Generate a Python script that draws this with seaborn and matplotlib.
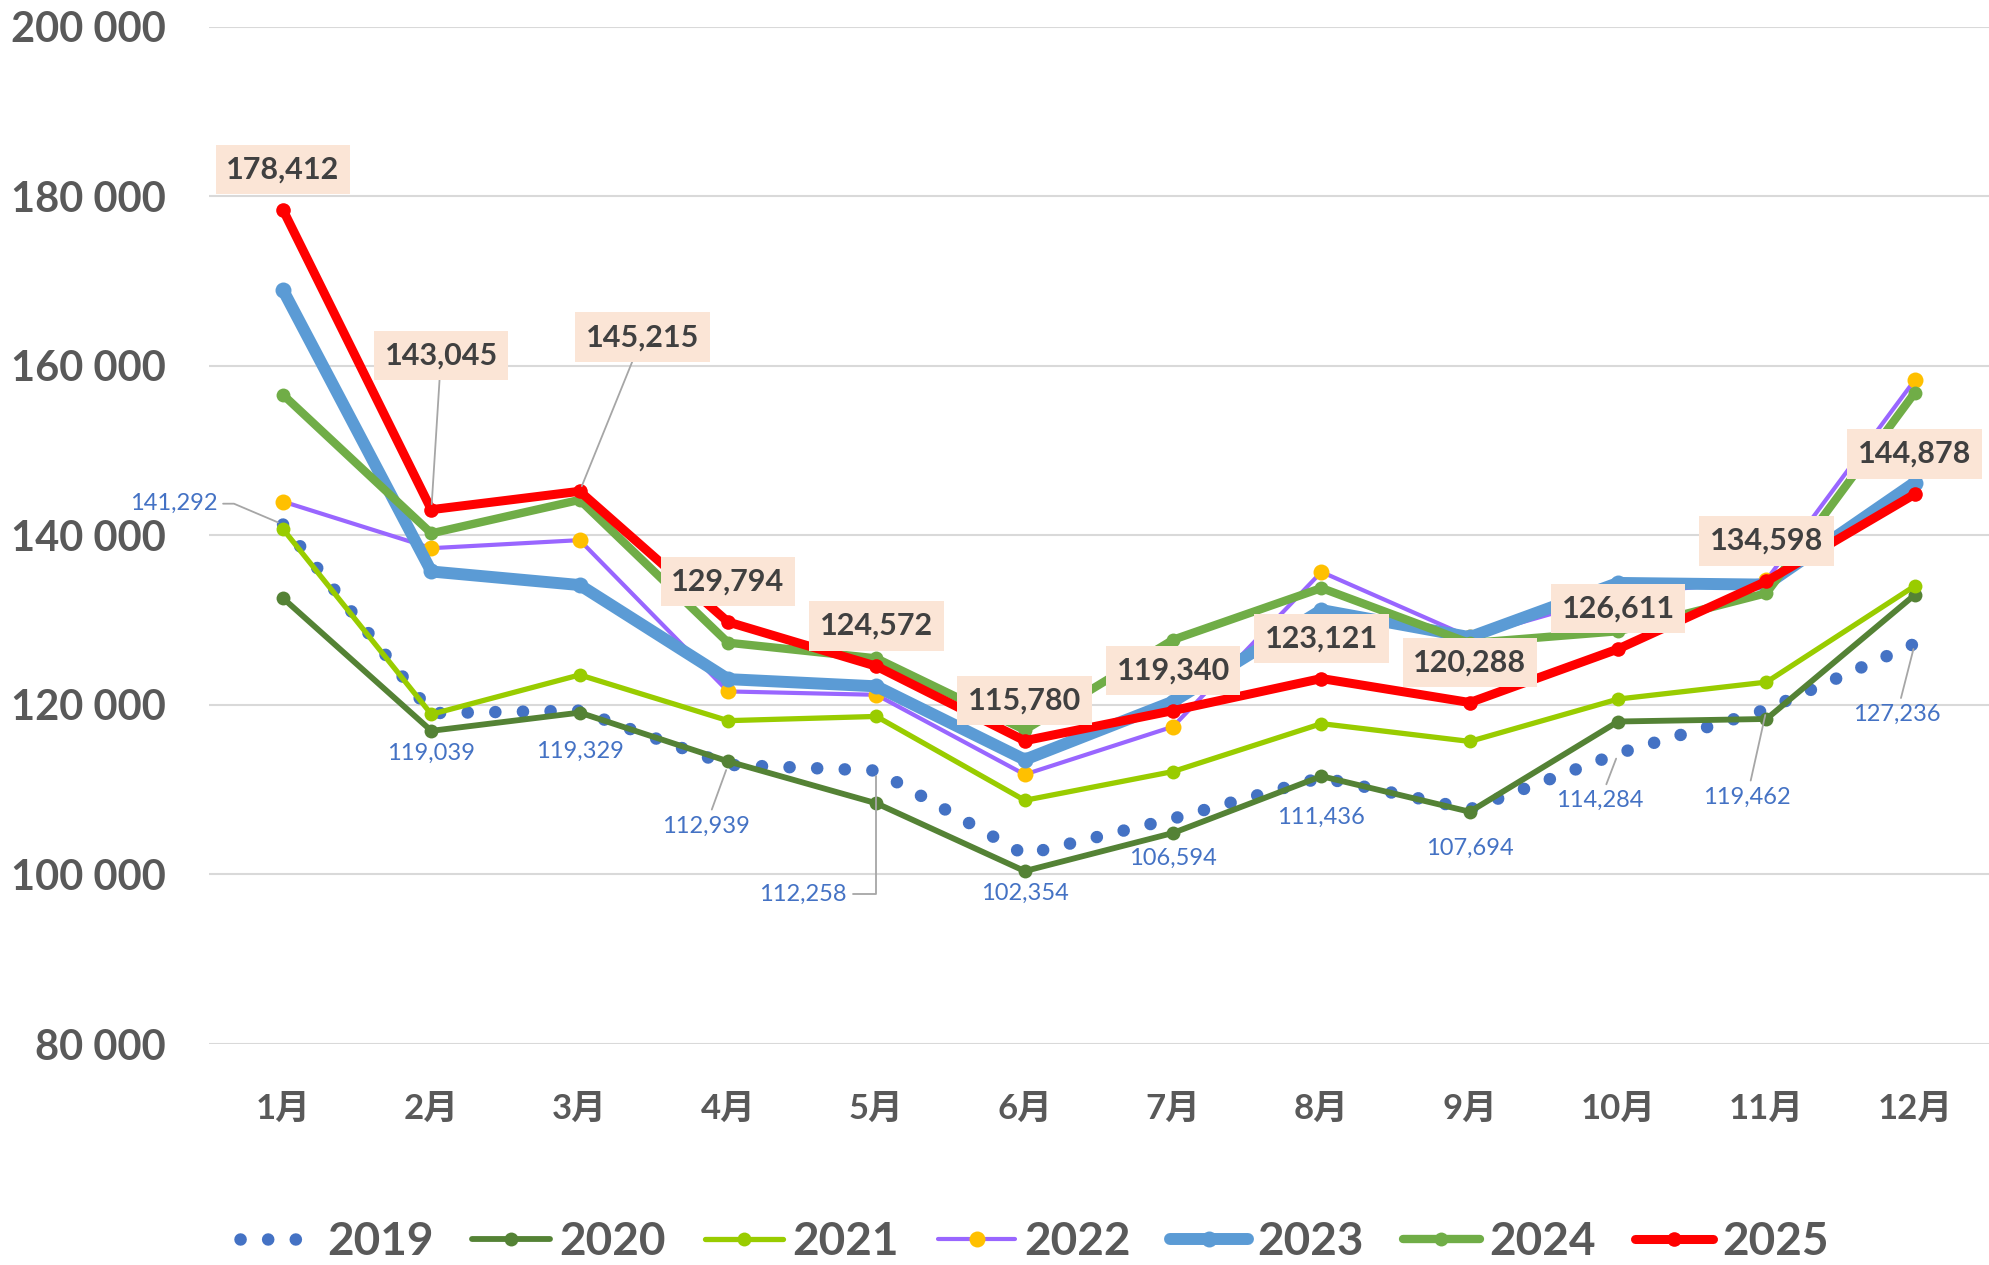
import numpy as np
import pandas as pd
import matplotlib
matplotlib.use("Agg")
import matplotlib.pyplot as plt
import seaborn as sns
from matplotlib.ticker import FuncFormatter

# data
months = ['1月', '2月', '3月', '4月', '5月', '6月', '7月', '8月', '9月', '10月', '11月', '12月']
years = ['2019', '2020', '2021', '2022', '2023', '2024', '2025']

y2019 = [141292, 119039, 119329, 112939, 112258, 102354, 106594, 111436, 107694, 114284, 119462, 127236]
y2020 = [132600, 116950, 119100, 113350, 108400, 100400, 104900, 111600, 107400, 118050, 118350, 133000]
y2021 = [140750, 118900, 123550, 118150, 118650, 108750, 112150, 117800, 115700, 120700, 122700, 134050]
y2022 = [144000, 138500, 139450, 121600, 121200, 111800, 117450, 135700, 128000, 133000, 134750, 158350]
y2023 = [168950, 135750, 134150, 123050, 122200, 113550, 120400, 131200, 128000, 134400, 134200, 146250]
y2024 = [156600, 140250, 144200, 127350, 125500, 117050, 127700, 133800, 127300, 128700, 133200, 156850]
y2025 = [178412, 143045, 145215, 129794, 124572, 115780, 119340, 123121, 120288, 126611, 134598, 144878]

series = dict(zip(years, [y2019, y2020, y2021, y2022, y2023, y2024, y2025]))

styles = {
    '2019': dict(color='#4472C4', linewidth=9, linestyle=(0, (0.01, 2.2)), dash_capstyle='round'),
    '2020': dict(color='#548235', linewidth=4.2, marker='o', markersize=10, markeredgewidth=0),
    '2021': dict(color='#99CC00', linewidth=3.8, marker='o', markersize=10, markeredgewidth=0),
    '2022': dict(color='#9966FF', linewidth=3.0, marker='o', markersize=11.5, markeredgewidth=0,
                 markerfacecolor='#FFC000'),
    '2023': dict(color='#5B9BD5', linewidth=8.6, marker='o', markersize=11.5, markeredgewidth=0),
    '2024': dict(color='#70AD47', linewidth=6, marker='o', markersize=10, markeredgewidth=0),
    '2025': dict(color='#FF0000', linewidth=6.5, marker='o', markersize=10.5, markeredgewidth=0),
}

sns.set_theme(style='white')
plt.rcParams['font.family'] = ['Lato', 'Noto Sans CJK JP']

fig = plt.figure(figsize=(19.89, 12.65), dpi=100)
ax = fig.add_axes([0.105, 0.1747, 0.895, 0.804])

x = np.arange(len(months))
for year in years:
    sns.lineplot(x=x, y=series[year], ax=ax, label=year, sort=False, **styles[year])

# axes
ax.set_xlim(-0.5, 11.5)
ax.set_ylim(80000, 200000)
ax.set_yticks(range(80000, 200001, 20000))
ax.yaxis.set_major_formatter(FuncFormatter(lambda v, p: f"{int(v):,}".replace(',', ' ')))
ax.set_xticks(x)
ax.set_xticklabels(months)
ax.tick_params(axis='y', length=0, pad=31, labelsize=30, labelcolor='#595959')
ax.tick_params(axis='x', length=0, pad=35, labelsize=25, labelcolor='#595959')
for lab in ax.get_xticklabels() + ax.get_yticklabels():
    lab.set_fontweight('bold')
ax.yaxis.grid(True, color='#D9D9D9', linewidth=1.5)
ax.xaxis.grid(False)
ax.set_axisbelow(True)
for s in ax.spines.values():
    s.set_visible(False)
ax.set_xlabel('')
ax.set_ylabel('')

leader = dict(arrowstyle='-', color='#A6A6A6', lw=1.3, shrinkB=4)

# 2025 labels
off25 = {1: (7, 111), 2: (45, 111)}
for i, v in enumerate(y2025):
    dx, dy = off25.get(i, (0, 29))
    kw = {}
    if i in off25:
        kw['arrowprops'] = dict(leader, shrinkA=0)
    ax.annotate(f"{v:,}", (i, v), xytext=(dx, dy), textcoords='offset points',
                ha='center', va='center', fontsize=22, fontweight='bold', color='#404040',
                bbox=dict(boxstyle='square,pad=0.35', fc='#FBE5D6', ec='none'), zorder=10, **kw)

# 2019 labels
off19 = {0: (-79, 15), 1: (0, -29), 2: (0, -29), 3: (-16, -44), 4: (-53, -89), 5: (0, -28),
         6: (0, -28.6), 7: (0, -28.7), 8: (0, -28), 9: (-13, -34), 10: (-14, -63), 11: (-13, -51)}
conn19 = {0: 'angle,angleA=0,angleB=-23,rad=0', 4: 'angle,angleA=0,angleB=90,rad=0'}
lead19 = [0, 3, 4, 9, 10, 11]
for i, v in enumerate(y2019):
    dx, dy = off19[i]
    kw = {}
    if i in lead19:
        ap = dict(leader, shrinkA=2)
        if i in conn19:
            ap['connectionstyle'] = conn19[i]
            ap['relpos'] = (1, 0.5)
        kw['arrowprops'] = ap
    ax.annotate(f"{v:,}", (i, v), xytext=(dx, dy), textcoords='offset points',
                ha='center', va='center', fontsize=17, color='#4472C4', zorder=9, **kw)

handles, labels = ax.get_legend_handles_labels()
ax.get_legend().remove()
fig.legend(handles, labels, loc='center', bbox_to_anchor=(0.52, 0.018), ncol=7, frameon=False,
           prop=dict(weight='bold', size=33), labelcolor='#595959',
           handlelength=1.7, handletextpad=0.2, columnspacing=0.85)

fig.savefig('out.png', dpi=100)
